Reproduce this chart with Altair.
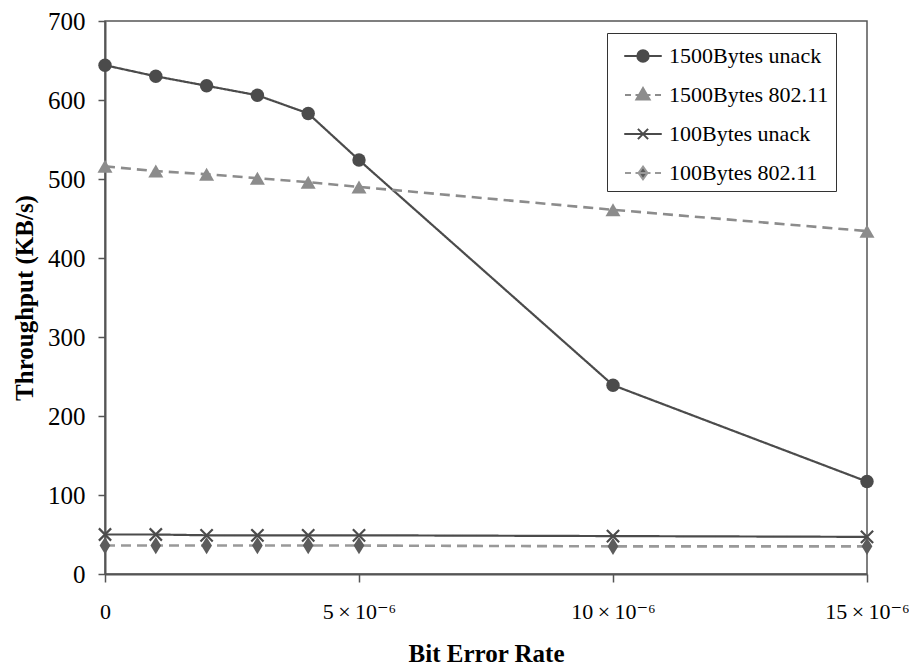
import altair as alt
import pandas as pd

# Bit error rate, in units of 10^-6
ber = [0, 1, 2, 3, 4, 5, 10, 15]
thr_1500_unack = [644, 630, 618, 606, 583, 524, 239, 117]
thr_1500_80211 = [516, 510, 506, 501, 496, 490, 461, 434]
thr_100_unack = [50, 50, 49, 49, 49, 49, 48, 47]
thr_100_80211 = [36, 36, 36, 36, 36, 36, 35, 35]

series_names = ["1500Bytes unack", "1500Bytes 802.11", "100Bytes unack", "100Bytes 802.11"]
series_values = [thr_1500_unack, thr_1500_80211, thr_100_unack, thr_100_80211]
x_ticks = [0, 5, 10, 15]
y_ticks = [0, 100, 200, 300, 400, 500, 600, 700]

rows = []
for name, vals in zip(series_names, series_values):
    for b, v in zip(ber, vals):
        rows.append({"series": name, "ber": b, "thr": v})
df = pd.DataFrame(rows)

FONT = "'Liberation Serif', 'Times New Roman', Tinos, 'DejaVu Serif', serif"
DARK = "#4b4b4b"
LIGHT = "#8c8c8c"

line_color = [DARK, LIGHT, DARK, "#999999"]
line_dash = [[1, 0], [10, 6], [1, 0], [10, 6]]
line_width = [2.2, 2.6, 2.2, 2.6]
marker_color = [DARK, LIGHT, DARK, "#5c5c5c"]
marker_shape = [
    "circle",
    "triangle-up",
    "M-1,-1L1,1M-1,1L1,-1",
    "M0,-1L0.62,0L0,1L-0.62,0Z",
]
marker_size = [180, 225, 150, 300]
marker_filled = [True, True, False, True]

legend_paths = [
    "M-1.25,0H1.25M0.38,0A0.38,0.38,0,1,1,-0.38,0A0.38,0.38,0,1,1,0.38,0Z",
    "M-1.2,0H-0.8M-0.5,0H0.5M0.8,0H1.2M0,-0.46L0.44,0.3L-0.44,0.3Z",
    "M-1.25,0H1.25M-0.34,-0.34L0.34,0.34M-0.34,0.34L0.34,-0.34",
    "M-1.2,0H-0.8M-0.5,0H0.5M0.8,0H1.2M0,-0.42L0.3,0L0,0.42L-0.3,0Z",
]

x_enc = alt.X(
    "ber:Q",
    scale=alt.Scale(domain=[0, 15], nice=False, zero=False),
    axis=alt.Axis(
        title="Bit Error Rate",
        values=x_ticks,
        labelExpr="datum.value == 0 ? '0' : datum.value + '\u2009\u00d7\u200910\u207b\u2076'",
        grid=False,
        tickSize=8,
        labelPadding=19,
        labelFontSize=22,
        labelFont=FONT,
        labelColor="#000000",
        labelFlush=False,
        labelOverlap=False,
        titleFont=FONT,
        titleFontSize=25,
        titleFontWeight="bold",
        titleColor="#000000",
        titlePadding=19,
        domainColor="#555555",
        domainWidth=2,
        tickColor="#555555",
        tickWidth=1.5,
    ),
)
y_enc = alt.Y(
    "thr:Q",
    scale=alt.Scale(domain=[0, 700], nice=False),
    axis=alt.Axis(
        title="Throughput (KB/s)",
        values=y_ticks,
        grid=False,
        tickSize=7,
        labelPadding=13,
        labelFontSize=25,
        labelFont=FONT,
        labelColor="#000000",
        titleFont=FONT,
        titleFontSize=25,
        titleFontWeight="bold",
        titleColor="#000000",
        titlePadding=10,
        domainColor="#555555",
        domainWidth=2,
        tickColor="#555555",
        tickWidth=1.5,
    ),
)

base = alt.Chart(df)
layers = []
for i, name in enumerate(series_names):
    sub = base.transform_filter(alt.datum.series == name)
    layers.append(
        sub.mark_line(color=line_color[i], strokeDash=line_dash[i], strokeWidth=line_width[i]).encode(
            x=x_enc, y=y_enc
        )
    )
for i, name in enumerate(series_names):
    sub = base.transform_filter(alt.datum.series == name)
    if marker_filled[i]:
        mk = sub.mark_point(
            shape=marker_shape[i], filled=True, color=marker_color[i],
            size=marker_size[i], opacity=1,
        )
    else:
        mk = sub.mark_point(
            shape=marker_shape[i], filled=False, color=marker_color[i],
            size=marker_size[i], strokeWidth=2.2, opacity=1,
        )
    layers.append(mk.encode(x=x_enc, y=y_enc))

# legend entries: series names padded so that the legend box is as wide as the original
legend_domain = [n + "\u00a0" * 6 for n in series_names]

legend_def = alt.Legend(
    title=None,
    orient="none",
    legendX=502,
    legendY=12,
    padding=7,
    rowPadding=12,
    symbolOffset=13,
    symbolSize=900,
    symbolStrokeWidth=2,
    labelOffset=10,
    labelFont=FONT,
    labelFontSize=22,
    labelColor="#000000",
    labelLimit=400,
    strokeColor="#333333",
)
legend_layer = base.transform_filter(alt.datum.ber < 0).mark_point(
    filled=True, strokeWidth=2, opacity=1
).encode(
    x=x_enc,
    y=y_enc,
    fill=alt.Fill("series:N", scale=alt.Scale(domain=legend_domain, range=marker_color), legend=legend_def, sort=legend_domain),
    stroke=alt.Stroke("series:N", scale=alt.Scale(domain=legend_domain, range=line_color), legend=legend_def, sort=legend_domain),
    shape=alt.Shape("series:N", scale=alt.Scale(domain=legend_domain, range=legend_paths), legend=legend_def, sort=legend_domain),
)
layers.append(legend_layer)

chart = alt.layer(*layers).properties(
    width=762,
    height=553,
    autosize=alt.AutoSizeParams(type="none"),
    padding={"left": 105, "top": 21, "right": 42, "bottom": 95},
    background="white",
).configure_view(
    stroke="#555555", strokeWidth=1.5
)

chart.save("out.html", embed_options={"renderer": "svg", "actions": False})
